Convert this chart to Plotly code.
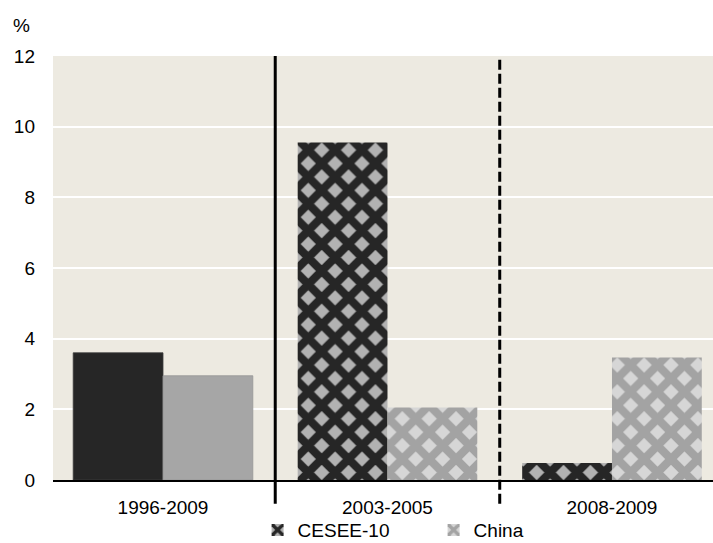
import plotly.graph_objects as go

# Periods and values (%)
periods = ["1996-2009", "2003-2005", "2008-2009"]
cesee = [3.6, 9.55, 0.48]
china = [2.95, 2.05, 3.47]
y_ticks = [0, 2, 4, 6, 8, 10, 12]

FONT = "Liberation Sans, Arial, sans-serif"
PLOT_BG = "#edeae1"

fig = go.Figure()

# Long-run period: plain fills
fig.add_trace(go.Bar(
    x=periods[:1], y=cesee[:1], name="CESEE-10", offsetgroup="cesee",
    marker=dict(color="#262626", line=dict(width=0.8, color="#3c3c3c")),
    showlegend=False, legendgroup="cesee",
))
fig.add_trace(go.Bar(
    x=periods[:1], y=china[:1], name="China", offsetgroup="china",
    marker=dict(color="#a6a6a6", line=dict(width=0.8, color="#959595")),
    showlegend=False, legendgroup="china",
))

# Sub-periods: checkered fills
fig.add_trace(go.Bar(
    x=periods[1:], y=cesee[1:], name="CESEE-10", offsetgroup="cesee",
    legendgroup="cesee",
    marker=dict(
        color="#b2b2b2",
        line=dict(width=0),
        pattern=dict(shape="x", fgcolor="#262626", bgcolor="#b2b2b2",
                     size=19, solidity=0.68, fillmode="replace"),
    ),
))
fig.add_trace(go.Bar(
    x=periods[1:], y=china[1:], name="China", offsetgroup="china",
    legendgroup="china",
    marker=dict(
        color="#d4d4d4",
        line=dict(width=0),
        pattern=dict(shape="x", fgcolor="#a3a3a3", bgcolor="#d6d6d6",
                     size=19, solidity=0.68, fillmode="replace"),
    ),
))

# Period separators
fig.add_shape(type="line", xref="x", yref="paper", x0=0.5, x1=0.5,
              y0=-0.056, y1=1, line=dict(color="black", width=3))
fig.add_shape(type="line", xref="x", yref="paper", x0=1.5, x1=1.5,
              y0=-0.056, y1=1, line=dict(color="black", width=3, dash="10px,4px"))

fig.add_annotation(text="%", xref="paper", yref="paper", x=-0.047, y=1.071,
                   xanchor="center", yanchor="middle", showarrow=False,
                   font=dict(family=FONT, size=19, color="black"))

fig.update_layout(
    width=713, height=543,
    margin=dict(l=53, r=0, t=56, b=63, autoexpand=False),
    paper_bgcolor="white",
    plot_bgcolor=PLOT_BG,
    barmode="group",
    bargap=0.2,
    bargroupgap=0,
    font=dict(family=FONT, size=19, color="black"),
    showlegend=True,
    legend=dict(
        orientation="h", x=0.31, xanchor="left", y=-0.118, yanchor="middle",
        entrywidth=131, font=dict(family=FONT, size=19, color="black"),
        bgcolor="rgba(0,0,0,0)", traceorder="normal",
    ),
    xaxis=dict(
        type="category", range=[-0.49, 2.45],
        showline=True, linecolor="black", linewidth=1.5,
        showgrid=False, ticks="", ticklabelstandoff=9,
        tickfont=dict(family=FONT, size=19, color="black"),
        fixedrange=True, automargin=False,
    ),
    yaxis=dict(
        range=[0, 12], tickvals=y_ticks,
        showgrid=True, gridcolor="white", gridwidth=2,
        zeroline=False, showline=False, ticks="",
        ticklabelstandoff=17,
        tickfont=dict(family=FONT, size=19, color="black"),
        fixedrange=True, automargin=False,
    ),
)

fig.write_html("out.html")
